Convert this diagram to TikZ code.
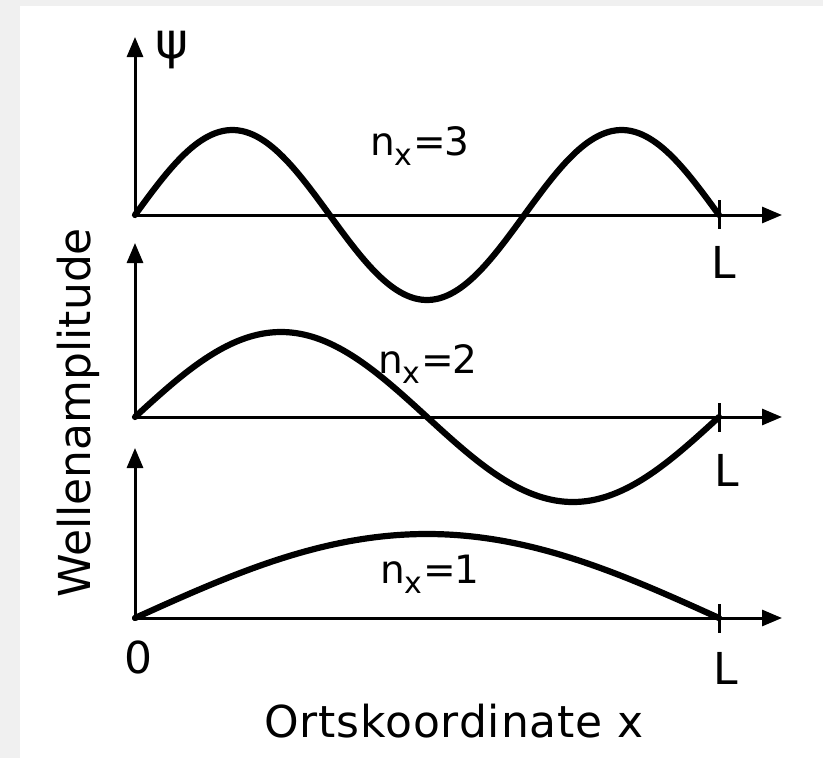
\documentclass[tikz,border=0pt]{standalone}
\usepackage{fontspec}
\setmainfont{DejaVu Sans}
\usetikzlibrary{arrows.meta}
\definecolor{bgray}{HTML}{F0F0F0}
\newcommand\nxlab[1]{n\raisebox{-10pt}{\fontsize{30}{30}\selectfont x}\kern1pt=\kern-2pt#1}
\begin{document}
\begin{tikzpicture}[x=1pt,y=-1pt,
  axis/.style={line width=3pt,-{Triangle[length=20pt,width=16pt]}},
  tickmark/.style={line width=3pt},
  wave/.style={line width=6.2pt,line cap=round,line join=round},
  lab/.style={inner sep=0pt,font=\fontsize{44}{44}\selectfont},
  nlab/.style={inner sep=0pt,anchor=base west,font=\fontsize{39}{39}\selectfont}]
\useasboundingbox (0,0) rectangle (823,758);
\fill[bgray] (0,0) rectangle (823,758);
\fill[white] (20,6) rectangle (823,758);
% origins and axis ends
\coordinate (o3) at (135,215); \coordinate (y3) at (135,37); \coordinate (x3) at (782,215);
\coordinate (o2) at (135,417); \coordinate (y2) at (135,243); \coordinate (x2) at (782,417);
\coordinate (o1) at (135,618); \coordinate (y1) at (135,448); \coordinate (x1) at (782,618);
% axes
\foreach \k in {1,2,3}{
  \draw[axis] (o\k) -- (y\k);
  \draw[axis] (o\k) -- (x\k);
}
% ticks at L
\draw[tickmark] (719,200) -- (719,229);
\draw[tickmark] (719,403) -- (719,432);
\draw[tickmark] (719,604) -- (719,633);
% waves
\draw[wave] plot[domain=0:584,samples=160,smooth] (\x+135,{215-85*sin(0.924658*\x)});
\draw[wave] plot[domain=0:584,samples=160,smooth] (\x+135,{417-85*sin(0.616438*\x)});
\draw[wave] plot[domain=0:584,samples=160,smooth] (\x+135,{618-84*sin(0.308219*\x)});
% labels
\node[lab,font=\fontsize{50}{50}\selectfont] (psi) at (172,50) {ψ};
\node[nlab] (n3) at (370,155) {\nxlab{3}};
\node[nlab] (n2) at (378,373) {\nxlab{2}};
\node[nlab] (n1) at (380,583) {\nxlab{1}};
\node[lab,anchor=base west] (L3) at (711,278) {L};
\node[lab,anchor=base west] (L2) at (714,486) {L};
\node[lab,anchor=base west] (L1) at (713,684) {L};
\node[lab,anchor=base] (zero) at (138.5,673) {0};
\node[lab,anchor=base west] (xlab) at (264,737) {\addfontfeature{LetterSpace=2}Ortskoordinate x};
\node[lab,anchor=base west,rotate=90] (ylab) at (90,598) {Wellenamplitude};
\end{tikzpicture}
\end{document}
